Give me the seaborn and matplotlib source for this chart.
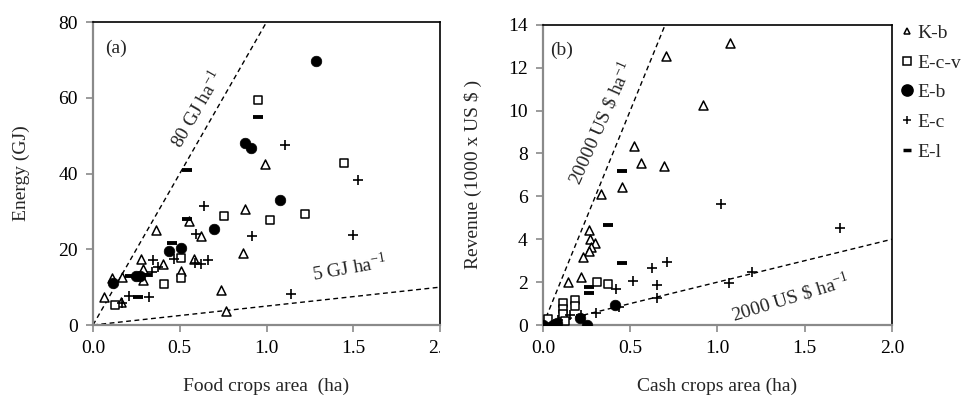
import numpy as np
import pandas as pd
import matplotlib
matplotlib.use("Agg")
import matplotlib.pyplot as plt
from matplotlib.lines import Line2D
from matplotlib.patches import Rectangle
import seaborn as sns

# ---------------- data ----------------
series_names = ["K-b", "E-c-v", "E-b", "E-c", "E-l"]

# (a) food crops area (ha) vs energy (GJ)
kb_food_x = [0.99, 0.555, 0.364, 0.625, 0.877, 0.864, 0.275, 0.583, 0.402, 0.286,
             0.506, 0.286, 0.165, 0.11, 0.737, 0.063, 0.16, 0.767]
kb_food_y = [42.6, 27.4, 25.0, 23.4, 30.7, 19.0, 17.5, 17.5, 16.0, 14.9,
             14.3, 12.0, 12.7, 12.3, 9.2, 7.5, 6.1, 3.7]
ecv_food_x = [0.948, 1.448, 1.223, 1.02, 0.756, 0.506, 0.506, 0.41, 0.127]
ecv_food_y = [59.4, 42.8, 29.4, 27.6, 28.8, 17.8, 12.3, 10.7, 5.3]
eb_food_x = [1.287, 0.877, 0.91, 1.075, 0.698, 0.439, 0.506, 0.25, 0.27, 0.117]
eb_food_y = [69.7, 48.1, 46.7, 33.1, 25.3, 19.5, 20.4, 12.9, 12.9, 11.1]
ec_food_x = [1.108, 1.527, 0.64, 0.594, 0.917, 1.498, 0.344, 0.467, 0.664, 0.377,
             0.59, 0.62, 0.339, 1.141, 0.21, 0.325, 0.165]
ec_food_y = [47.5, 38.2, 31.3, 24.1, 23.4, 23.7, 17.1, 17.3, 17.1, 15.4,
             16.3, 16.0, 14.0, 8.3, 7.6, 7.3, 5.7]
el_food_x = [0.948, 0.54, 0.54, 0.454, 0.213, 0.31, 0.26]
el_food_y = [55.0, 40.8, 28.1, 21.7, 12.9, 13.3, 7.3]

# (b) cash crops area (ha) vs revenue (1000 US $)
kb_cash_x = [1.072, 0.705, 0.919, 0.521, 0.56, 0.695, 0.451, 0.331, 0.265, 0.27,
             0.298, 0.273, 0.265, 0.227, 0.216, 0.141]
kb_cash_y = [13.15, 12.55, 10.27, 8.35, 7.54, 7.42, 6.45, 6.1, 4.43, 4.0,
             3.84, 3.65, 3.47, 3.19, 2.22, 2.02]
ecv_cash_x = [0.311, 0.374, 0.183, 0.183, 0.116, 0.116, 0.116, 0.125, 0.03]
ecv_cash_y = [2.02, 1.9, 1.17, 0.89, 1.01, 0.73, 0.5, 0.2, 0.27]
eb_cash_x = [0.413, 0.0, 0.06, 0.08, 0.21, 0.25]
eb_cash_y = [0.93, 0.0, 0.0, 0.08, 0.31, 0.0]
ec_cash_x = [1.018, 1.702, 0.709, 0.623, 0.514, 0.655, 0.418, 0.655, 0.437, 0.304,
             1.196, 1.068, 0.155, 0.22, 0.086]
ec_cash_y = [5.63, 4.54, 2.96, 2.64, 2.07, 1.87, 1.66, 1.24, 0.83, 0.54,
             2.49, 1.98, 0.47, 0.47, 0.23]
el_cash_x = [0.451, 0.374, 0.451, 0.265, 0.265]
el_cash_y = [7.19, 4.67, 2.88, 1.76, 1.51]

# reference intensity lines (per ha)
energy_rates = [80, 5]          # GJ ha-1
revenue_rates = [20, 2]         # 1000 US $ ha-1
x_ticks = [0.0, 0.5, 1.0, 1.5, 2.0]
energy_ticks = [0, 20, 40, 60, 80]
revenue_ticks = [0, 2, 4, 6, 8, 10, 12, 14]

# ---------------- style ----------------
sns.set_theme(style="white")
plt.rcParams["font.family"] = ["Liberation Serif", "DejaVu Serif"]
plt.rcParams["mathtext.fontset"] = "custom"
plt.rcParams["mathtext.rm"] = "Liberation Serif"
plt.rcParams["mathtext.it"] = "Liberation Serif:italic"
FS = 14
GREY = "#8a8a8a"

marker_kw = {
    "K-b": dict(marker="^", s=42, color="white", edgecolor="black", linewidth=1.1),
    "E-c-v": dict(marker="s", s=40, color="white", edgecolor="black", linewidth=1.1),
    "E-b": dict(marker="o", s=58, color="black", edgecolor="black", linewidth=0.5),
    "E-c": dict(marker="+", s=48, color="black", linewidth=1.2),
    "E-l": dict(marker="_", s=55, color="black", linewidth=2.8),
}

food = {"K-b": (kb_food_x, kb_food_y), "E-c-v": (ecv_food_x, ecv_food_y),
        "E-b": (eb_food_x, eb_food_y), "E-c": (ec_food_x, ec_food_y),
        "E-l": (el_food_x, el_food_y)}
cash = {"K-b": (kb_cash_x, kb_cash_y), "E-c-v": (ecv_cash_x, ecv_cash_y),
        "E-b": (eb_cash_x, eb_cash_y), "E-c": (ec_cash_x, ec_cash_y),
        "E-l": (el_cash_x, el_cash_y)}

fig = plt.figure(figsize=(9.67, 4.04), dpi=100)
ax1 = fig.add_axes([0.0962, 0.1955, 0.3589, 0.750])
ax2 = fig.add_axes([0.5615, 0.1955, 0.3609, 0.743])


def style_axes(ax, yticks, ymax):
    ax.set_xlim(0, 2.0)
    ax.set_ylim(0, ymax)
    ax.set_xticks(x_ticks, [f"{t:.1f}" for t in x_ticks])
    ax.set_yticks(yticks, [str(t) for t in yticks])
    for side in ("left", "bottom"):
        ax.spines[side].set_color(GREY)
        ax.spines[side].set_linewidth(1.6)
    for side in ("top", "right"):
        ax.spines[side].set_color("black")
        ax.spines[side].set_linewidth(1.2)
        ax.spines[side].set_visible(True)
    ax.tick_params(axis="both", direction="out", length=5, width=1.2,
                   color=GREY, labelcolor="black", labelsize=FS, pad=6,
                   left=True, bottom=True)
    ax.grid(False)


def draw_panel(ax, groups, rates):
    xs = np.array([0.0, 2.0])
    for r in rates:
        ax.plot(xs, r * xs, color="black", lw=1.0, ls=(0, (3.5, 2.5)), zorder=1)
    for name in series_names:
        gx, gy = groups[name]
        df = pd.DataFrame({"x": gx, "y": gy})
        sns.scatterplot(data=df, x="x", y="y", ax=ax, legend=False,
                        zorder=3, **marker_kw[name])
    ax.set_xlabel("")
    ax.set_ylabel("")


draw_panel(ax1, food, energy_rates)
draw_panel(ax2, cash, revenue_rates)
style_axes(ax1, energy_ticks, 80)
style_axes(ax2, revenue_ticks, 14)

ax1.set_xlabel("Food crops area  (ha)", fontsize=FS, labelpad=15)
ax1.set_ylabel("Energy (GJ)", fontsize=FS, labelpad=20)
ax2.set_xlabel("Cash crops area (ha)", fontsize=FS, labelpad=15)
ax2.set_ylabel("Revenue (1000 x US \\$ )", fontsize=FS, labelpad=19)

# panel tags and line labels
ax1.text(0.13, 73, "(a)", fontsize=FS, ha="center", va="center")
ax2.text(0.105, 12.83, "(b)", fontsize=FS, ha="center", va="center")
ax1.text(0.60, 57, f"{energy_rates[0]} GJ ha$^{{-1}}$", fontsize=FS,
         rotation=60, ha="center", va="center", rotation_mode="anchor")
ax1.text(1.478, 15.0, f"{energy_rates[1]} GJ ha$^{{-1}}$", fontsize=FS,
         rotation=10, ha="center", va="center", rotation_mode="anchor")
ax2.text(0.33, 9.4, f"{revenue_rates[0] * 1000} US \\$ ha$^{{-1}}$", fontsize=FS,
         rotation=66, ha="center", va="center", rotation_mode="anchor")
ax2.text(1.42, 1.3, f"{revenue_rates[1] * 1000} US \\$ ha$^{{-1}}$", fontsize=FS,
         rotation=17, ha="center", va="center", rotation_mode="anchor")

# the left panel is cut at its right frame
clip_rect = Rectangle((0, 0), 0.4555, 1, transform=fig.transFigure)
for lbl in ax1.get_xticklabels():
    if lbl.get_text() == "2.0":
        lbl.set_clip_on(True)
        lbl.set_clip_path(clip_rect)

# legend
legend_sizes = {"K-b": 5, "E-c-v": 6, "E-b": 8, "E-c": 6, "E-l": 6}
handles = []
for name in series_names:
    kw = marker_kw[name]
    open_m = kw["marker"] in ("^", "s")
    handles.append(Line2D([], [], ls="none", marker=kw["marker"],
                          markersize=legend_sizes[name],
                          markerfacecolor="white" if open_m else "black",
                          markeredgecolor="black",
                          markeredgewidth=2.5 if name == "E-l" else 1.1))
fig.legend(handles, series_names, loc="upper left",
           bbox_to_anchor=(0.932, 0.94), frameon=False, fontsize=FS,
           handlelength=0.6, handletextpad=0.25, labelspacing=0.62,
           borderaxespad=0, borderpad=0)

fig.savefig("out.png", dpi=100)
